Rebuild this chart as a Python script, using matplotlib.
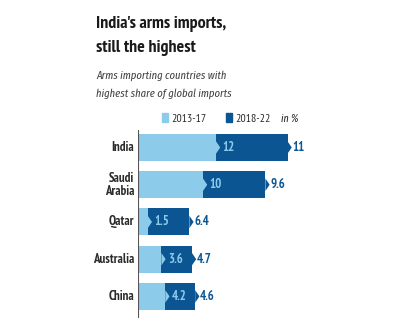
import matplotlib
matplotlib.use("Agg")
import matplotlib.pyplot as plt
from matplotlib.patches import Polygon, Rectangle

NARROW = ["PT Sans Narrow", "Roboto Condensed", "DejaVu Sans"]
ITALIC = ["Fira Sans Extra Condensed", "Roboto Condensed", "DejaVu Sans"]
plt.rcParams['font.family'] = NARROW

countries = ["India", "Saudi\nArabia", "Qatar", "Australia", "China"]
share_2013_17 = [12, 10, 1.5, 3.6, 4.2]
share_2018_22 = [11, 9.6, 6.4, 4.7, 4.6]
legend_labels = ["2013-17", "2018-22"]

LIGHT = "#8dcbea"
DARK = "#0c5593"
TEXT = "#2b2b2b"

W, H = 393, 329
fig = plt.figure(figsize=(W / 100, H / 100), dpi=100)
fig.patch.set_facecolor("white")
renderer = fig.canvas.get_renderer()


def fx(px):
    return px / W


def fy(py):
    return 1 - py / H


def fit_size(text, width_px, **kw):
    """Font size at which `text` spans `width_px` pixels."""
    probe = fig.text(0, 0, text, fontsize=10, **kw)
    w = probe.get_window_extent(renderer).width
    probe.remove()
    return 10 * width_px / w


# Headline and subtitle
title_size = fit_size("India's arms imports,", 131, family=NARROW, fontweight="bold")
for py, line in [(28, "India's arms imports,"), (52, "still the highest")]:
    fig.text(fx(96), fy(py), line, fontsize=title_size, fontweight="bold",
             color="#1a1a1a", ha="left", va="baseline")

sub_size = fit_size("Arms importing countries with", 131, family=ITALIC, style="italic")
for py, line in [(79, "Arms importing countries with"), (97, "highest share of global imports")]:
    fig.text(fx(96), fy(py), line, fontsize=sub_size, style="italic", family=ITALIC,
             color="#444444", ha="left", va="baseline")

# Legend
leg_size = fit_size(legend_labels[0], 35, family=NARROW)
for sx, col, lab in [(162, LIGHT, legend_labels[0]), (226, DARK, legend_labels[1])]:
    fig.patches.append(Rectangle((fx(sx), fy(122)), 6 / W, 9 / H, color=col,
                                 transform=fig.transFigure, figure=fig))
    fig.text(fx(sx + 9), fy(122), lab, fontsize=leg_size, color=TEXT,
             ha="left", va="baseline")
fig.text(fx(281), fy(122), "in %", fontsize=sub_size * 0.95, style="italic", family=ITALIC,
         color=TEXT, ha="left", va="baseline")

# Bar area
ax = fig.add_axes([fx(138), 11 / H, 250 / W, 188 / H])
ax.set_xlim(0, 250 / 6.5)
ax.set_ylim(4.58, -0.47)
ax.axis("off")
ax.axvline(0, color="#555555", lw=0.8)

ypos = list(range(len(countries)))
bh = 0.725
tip = 0.65
half = bh * 0.23

ax.barh(ypos, share_2013_17, height=bh, color=LIGHT, left=0)
ax.barh(ypos, share_2018_22, height=bh, color=DARK, left=share_2013_17)

cat_size = fit_size("Australia", 41, family=NARROW, fontweight="bold")
val_size = fit_size("9.6", 15, family=NARROW, fontweight="bold")

for y, a, b, name in zip(ypos, share_2013_17, share_2018_22, countries):
    end = a + b
    # notch where the later period begins
    ax.add_patch(Polygon([(a, y - half), (a + tip, y), (a, y + half)],
                         closed=True, color=LIGHT, lw=0))
    # arrow point at the end of the bar
    ax.add_patch(Polygon([(end, y - half), (end + tip, y), (end, y + half)],
                         closed=True, color=DARK, lw=0))
    ax.text(a + 1.0, y, f"{a:g}", color=LIGHT, fontsize=val_size, fontweight="bold",
            ha="left", va="center")
    ax.text(end + 0.75, y, f"{b:g}", color=DARK, fontsize=val_size, fontweight="bold",
            ha="left", va="center")
    ax.text(-0.6, y, name, color=TEXT, fontsize=cat_size, fontweight="bold",
            ha="right", va="center", linespacing=1.0)

fig.savefig("out.png", dpi=100, facecolor="white")
